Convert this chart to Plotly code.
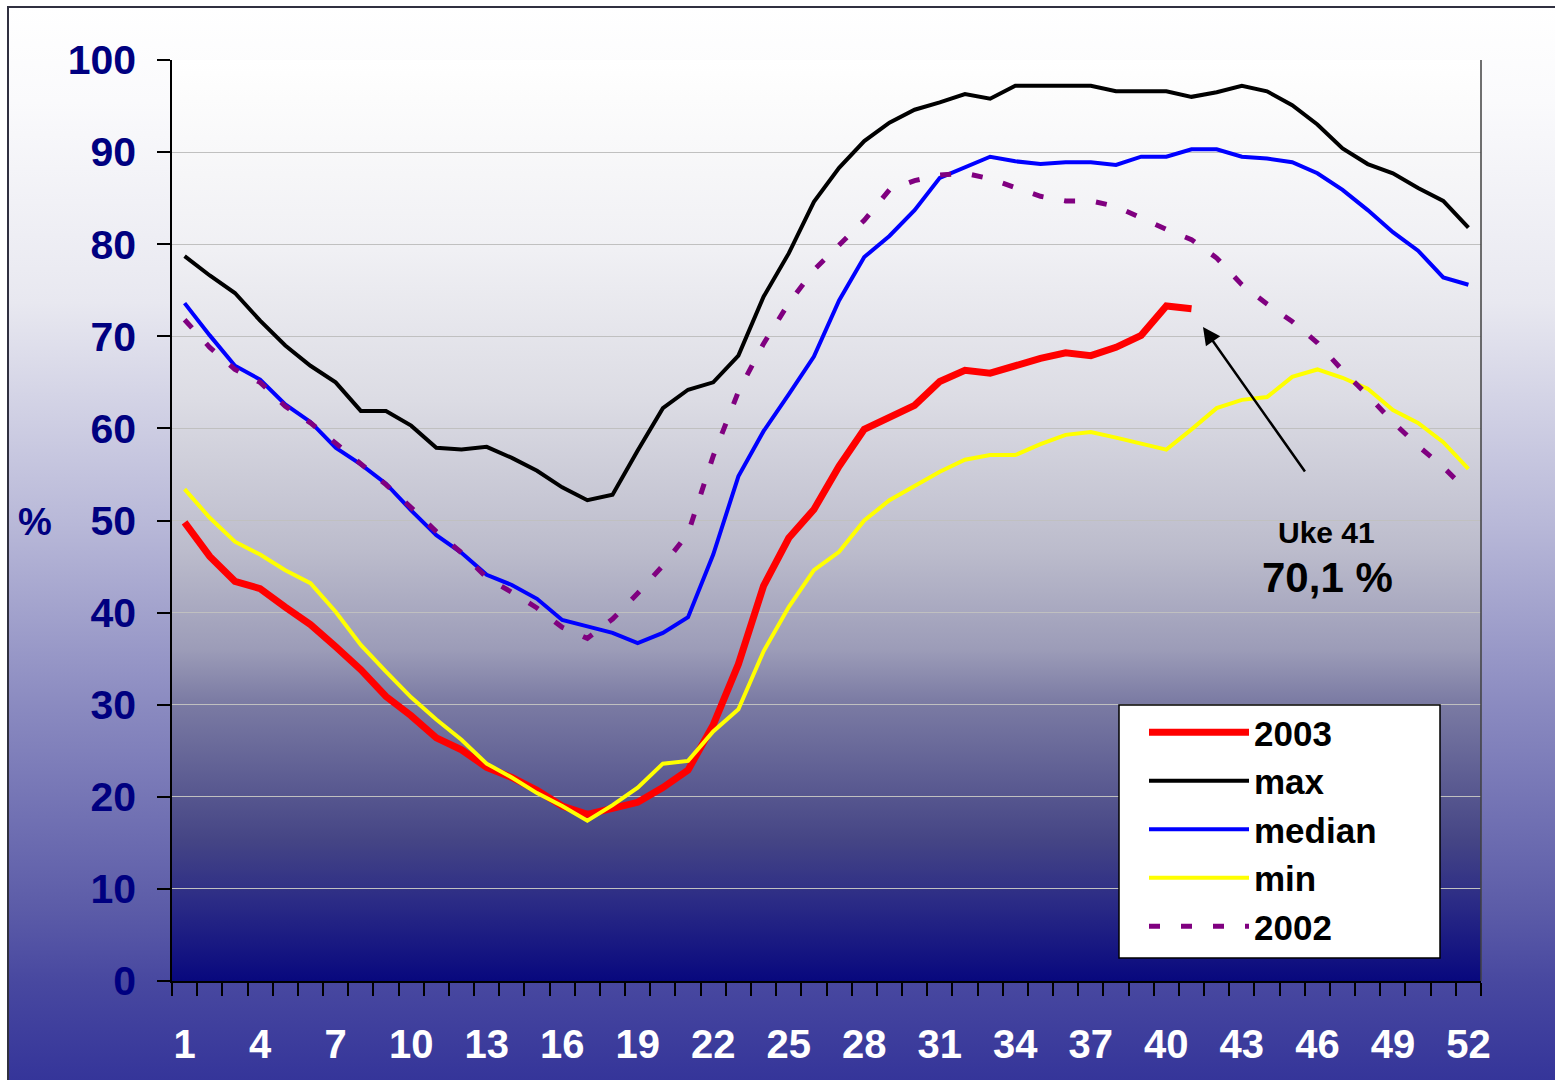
import base64
import plotly.graph_objects as go

# ---------------- data ----------------
weeks = list(range(1, 53))
tick_weeks = list(range(1, 53, 3))
tick_labels = [str(w) for w in tick_weeks]

y_2003 = [49.8, 46.1, 43.4, 42.6, 40.6, 38.7, 36.3, 33.8, 30.9, 28.8,
          26.4, 25.1, 23.2, 22.1, 20.7, 19.0, 18.1, 18.8, 19.4, 21.0,
          22.9, 27.8, 34.4, 42.9, 48.1, 51.2, 55.9, 59.9, 61.1, 62.5,
          65.1, 66.3, 66.0, 66.8, 67.6, 68.2, 67.9, 68.8, 70.1, 73.3,
          73.0]
y_max = [78.7, 76.6, 74.7, 71.7, 69.0, 66.8, 65.0, 61.9, 61.9, 60.3,
         57.9, 57.7, 58.0, 56.8, 55.4, 53.6, 52.2, 52.8, 57.6, 62.2,
         64.2, 65.0, 67.9, 74.3, 79.0, 84.6, 88.3, 91.2, 93.2, 94.6,
         95.4, 96.3, 95.8, 97.2, 97.2, 97.2, 97.2, 96.6, 96.6, 96.6,
         96.0, 96.5, 97.2, 96.6, 95.1, 93.0, 90.4, 88.7, 87.7, 86.1,
         84.7, 81.8]
y_median = [73.6, 70.1, 66.8, 65.3, 62.6, 60.7, 57.9, 56.1, 54.0, 51.1,
            48.4, 46.5, 44.1, 43.0, 41.5, 39.2, 38.5, 37.8, 36.7, 37.8,
            39.5, 46.3, 54.8, 59.7, 63.7, 67.8, 73.9, 78.6, 80.9, 83.7,
            87.2, 88.4, 89.5, 89.0, 88.7, 88.9, 88.9, 88.6, 89.5, 89.5,
            90.3, 90.3, 89.5, 89.3, 88.9, 87.7, 85.9, 83.7, 81.3, 79.3,
            76.4, 75.6]
y_min = [53.4, 50.3, 47.7, 46.3, 44.6, 43.2, 40.1, 36.5, 33.6, 30.8,
         28.4, 26.2, 23.6, 22.1, 20.4, 19.0, 17.4, 19.1, 21.0, 23.6,
         23.9, 27.1, 29.5, 35.8, 40.6, 44.6, 46.6, 50.0, 52.2, 53.7,
         55.3, 56.6, 57.1, 57.1, 58.3, 59.3, 59.6, 59.0, 58.4, 57.7,
         59.9, 62.2, 63.1, 63.4, 65.6, 66.4, 65.5, 64.3, 62.0, 60.6,
         58.5, 55.6]
y_2002 = [71.8, 68.8, 66.4, 65.0, 62.4, 60.6, 58.4, 56.2, 53.9, 51.4,
          48.8, 46.5, 43.8, 42.2, 40.5, 38.4, 37.2, 39.3, 42.1, 45.1,
          48.6, 57.0, 64.0, 69.2, 73.6, 77.2, 79.9, 82.6, 85.9, 86.9,
          87.5, 87.7, 87.1, 86.1, 85.2, 84.7, 84.7, 84.1, 82.8, 81.6,
          80.5, 78.5, 75.6, 73.5, 71.6, 69.3, 66.3, 63.6, 60.7, 58.1,
          55.8, 53.1]

# ---------------- geometry helpers (px -> paper) ----------------
W, H = 1555, 1080
L, R, T, B = 172, 74, 60, 99
PW, PH = W - L - R, H - T - B


def px(x):
    return (x - L) / PW


def py(y):
    return (H - B - y) / PH


def grad_uri(stops):
    s = "".join(f'<stop offset="{o}" stop-color="{c}"/>' for o, c in stops)
    svg = ('<svg xmlns="http://www.w3.org/2000/svg" width="100" height="1000" '
           'viewBox="0 0 100 1000" preserveAspectRatio="none"><defs>'
           '<linearGradient id="g" x1="0" y1="0" x2="0" y2="1">' + s +
           '</linearGradient></defs><rect width="100" height="1000" fill="url(#g)"/></svg>')
    return "data:image/svg+xml;base64," + base64.b64encode(svg.encode()).decode()


outer_stops = [(0, "#ffffff"), (0.087, "#fafafc"), (0.273, "#e8e8f0"),
               (0.478, "#b8b8d8"), (0.646, "#8a8ac0"), (0.832, "#5c5ca8"),
               (0.90, "#4848a0"), (1.0, "#333399")]
plot_stops = [(0, "#ffffff"), (0.043, "#fcfcfc"), (0.206, "#f0f0f4"),
              (0.369, "#dcdce4"), (0.532, "#bcbccc"), (0.64, "#9c9cb8"),
              (0.695, "#7c7ca4"), (0.847, "#454585"), (0.912, "#2c2c86"),
              (1.0, "#08087e")]

fig = go.Figure()

series = [
    ("2003", y_2003, dict(color="#ff0000", width=7)),
    ("max", y_max, dict(color="#000000", width=4)),
    ("median", y_median, dict(color="#0000ff", width=4)),
    ("min", y_min, dict(color="#ffff00", width=4)),
    ("2002", y_2002, dict(color="#800080", width=5, dash="11px,21px")),
]
for name, vals, line in series:
    fig.add_trace(go.Scatter(x=weeks[:len(vals)], y=vals, name=name, mode="lines",
                             line=dict(shape="linear", **line)))

fig.update_layout(
    width=W, height=H,
    margin=dict(l=L, r=R, t=T, b=B, pad=0),
    paper_bgcolor="#ffffff",
    plot_bgcolor="rgba(0,0,0,0)",
    font=dict(family="Arial, Liberation Sans, sans-serif"),
    showlegend=True,
    legend=dict(x=px(1119), y=py(703), xanchor="left", yanchor="top",
                bgcolor="rgba(0,0,0,0)", borderwidth=0,
                font=dict(size=35, color="#000000", weight="bold"),
                itemwidth=100, tracegroupgap=0, indentation=25),
    images=[
        dict(source=grad_uri(outer_stops), xref="paper", yref="paper",
             x=px(8), y=py(7), sizex=(W + 10 - 8) / PW, sizey=(H + 10 - 7) / PH,
             xanchor="left", yanchor="top", sizing="stretch", layer="below"),
        dict(source=grad_uri(plot_stops), xref="paper", yref="paper",
             x=0, y=1, sizex=1, sizey=1,
             xanchor="left", yanchor="top", sizing="stretch", layer="below"),
    ],
    shapes=[
        dict(type="rect", xref="paper", yref="paper", x0=px(8), y0=py(H + 10),
             x1=px(W + 10), y1=py(7), line=dict(color="#303040", width=2),
             fillcolor="rgba(0,0,0,0)", layer="above"),
        dict(type="line", xref="paper", yref="paper", x0=1, x1=1, y0=0, y1=1,
             line=dict(color="#404040", width=1.5), layer="above"),
        # legend frame
        dict(type="rect", xref="paper", yref="paper", x0=px(1119), x1=px(1440),
             y0=py(958), y1=py(705), fillcolor="#ffffff",
             line=dict(color="#000000", width=1.5), layer="above"),
    ],
    annotations=[
        dict(text="%", xref="paper", yref="paper", x=px(35), y=py(522),
             xanchor="center", yanchor="middle", showarrow=False,
             font=dict(size=38, color="#000080", weight="bold")),
        dict(text="Uke 41", xref="paper", yref="paper", x=px(1326), y=py(532),
             xanchor="center", yanchor="middle", showarrow=False,
             font=dict(size=30, color="#000000", weight="bold")),
        dict(text="70,1 %", xref="paper", yref="paper", x=px(1327), y=py(577),
             xanchor="center", yanchor="middle", showarrow=False,
             font=dict(size=42, color="#000000", weight="bold")),
        dict(text="", xref="paper", yref="paper", x=px(1203), y=py(327),
             ax=103, ay=146, showarrow=True, arrowhead=2, arrowsize=1.4,
             arrowwidth=2.5, arrowcolor="#000000"),
    ],
)

fig.update_xaxes(
    range=[0.5, 52.5], tickmode="array", tickvals=tick_weeks, ticktext=tick_labels,
    ticks="", showgrid=False, zeroline=False, automargin=False,
    showline=True, linecolor="#000000", linewidth=1.5,
    tickfont=dict(size=40, color="#ffffff", weight="bold"),
    ticklabelstandoff=27,
    minor=dict(ticks="outside", ticklen=13, tickcolor="#000000", tickwidth=1.5,
               tick0=0.5, dtick=1, showgrid=False),
)
fig.update_yaxes(
    range=[0, 100], tickmode="linear", tick0=0, dtick=10,
    ticks="outside", ticklen=13, tickcolor="#000000", tickwidth=1.5,
    showgrid=True, gridcolor="#c0c0c0", gridwidth=1, zeroline=False,
    automargin=False,
    showline=True, linecolor="#000000", linewidth=1.5,
    tickfont=dict(size=41, color="#000080", weight="bold"),
    ticklabelstandoff=13,
)

fig.write_html("out.html", config={"displayModeBar": False},
               post_script="document.body.style.margin='0';")
